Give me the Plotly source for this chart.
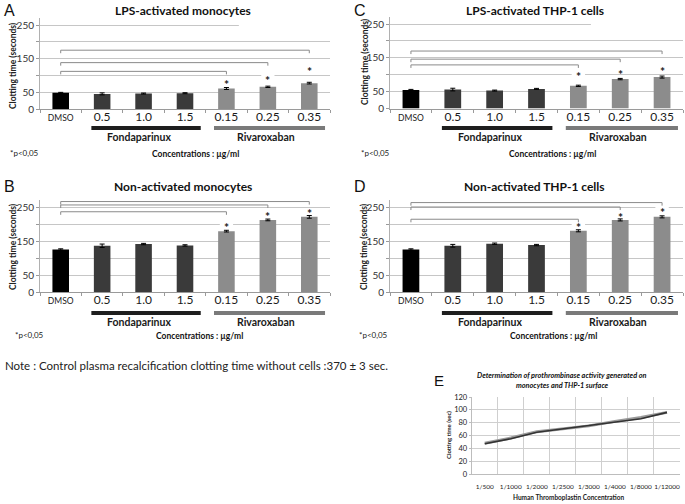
import plotly.graph_objects as go

W, H = 685, 504

# ---------------- data ----------------
categories = ["DMSO", "0.5", "1.0", "1.5", "0.15", "0.25", "0.35"]
treatment = ["DMSO", "Fondaparinux", "Fondaparinux", "Fondaparinux",
             "Rivaroxaban", "Rivaroxaban", "Rivaroxaban"]
significant = [False, False, False, False, True, True, True]

# A: LPS-activated monocytes
lps_monocytes = [48, 45, 46, 47, 61, 66, 77]
lps_monocytes_err = [1.5, 3.0, 1.5, 1.5, 3.0, 2.0, 2.5]
# B: Non-activated monocytes
non_monocytes = [125, 136, 141, 137, 179, 212, 221]
non_monocytes_err = [2.0, 5.0, 2.0, 2.0, 2.5, 2.5, 4.0]
# C: LPS-activated THP-1 cells
lps_thp1 = [55, 56, 53, 58, 67, 87, 93]
lps_thp1_err = [1.5, 4.0, 1.5, 1.5, 2.0, 2.0, 3.0]
# D: Non-activated THP-1 cells
non_thp1 = [125, 136, 142, 138, 180, 212, 221]
non_thp1_err = [2.0, 4.0, 2.0, 2.0, 3.0, 3.0, 3.0]

yticks = [0, 50, 100, 150, 200, 250]
ytick_labels = ["0", "50", "", "150", "", "250"]

# E: prothrombinase activity
dilutions = ["1/500", "1/1000", "1/2000", "1/2500", "1/3000", "1/4000", "1/8000", "1/12000"]
e_monocytes = [48, 56, 66, 71, 75, 82, 88, 96]
e_thp1 = [47, 55, 65, 70, 75, 81, 86, 96]
e_yticks = [0, 20, 40, 60, 80, 100, 120]

# ---------------- styling / layout ----------------
FONT = "Lato, Carlito, Calibri, sans-serif"
LETTER_FONT = "Liberation Sans, Arial, sans-serif"
bar_colors = {"DMSO": "#000000", "Fondaparinux": "#3a3a3a", "Rivaroxaban": "#8c8c8c"}
GRID = "#c6c6c6"
BRACKET = "#8a8a8a"


def px(x):
    return x / W


def py(y):
    return 1 - y / H


panels = [
    dict(letter="A", title="LPS-activated monocytes", y=lps_monocytes, err=lps_monocytes_err,
         xpx=(40, 330), zero=109, y250=25, row=dict(title=10, gbar=128, glab=137, foot=154),
         ytitle=(13, 66), pval_x=24, conc_x=195, stars=[82, 95, 120],
         brackets=[112, 138, 175], partial250=True),
    dict(letter="B", title="Non-activated monocytes", y=non_monocytes, err=non_monocytes_err,
         xpx=(40, 330), zero=292, y250=207, row=dict(title=186, gbar=313, glab=322, foot=336),
         ytitle=(13, 247), pval_x=29, conc_x=199, stars=[199, 231, 239],
         brackets=[236, 256, 266], partial250=False),
    dict(letter="C", title="LPS-activated THP-1 cells", y=lps_thp1, err=lps_thp1_err,
         xpx=(390, 683), zero=108.5, y250=24, row=dict(title=10, gbar=128, glab=137, foot=154),
         ytitle=(365, 62), pval_x=375, conc_x=552, stars=[104, 109, 119],
         brackets=[129, 146, 170], partial250=True),
    dict(letter="D", title="Non-activated THP-1 cells", y=non_thp1, err=non_thp1_err,
         xpx=(390, 683), zero=292, y250=207, row=dict(title=186, gbar=313, glab=322, foot=336),
         ytitle=(364, 247), pval_x=374, conc_x=553, stars=[199, 227, 243],
         brackets=[214, 250, 263], partial250=False),
]

YMAX = 270
fig = go.Figure()
shapes = []
annotations = []
layout_axes = {}

for i, p in enumerate(panels):
    n = i + 1
    xa = "x" if n == 1 else f"x{n}"
    ya = "y" if n == 1 else f"y{n}"
    xname = "xaxis" if n == 1 else f"xaxis{n}"
    yname = "yaxis" if n == 1 else f"yaxis{n}"
    scale = (p["zero"] - p["y250"]) / 250.0
    top = p["zero"] - YMAX * scale

    fig.add_trace(go.Bar(
        x=categories, y=p["y"], xaxis=xa, yaxis=ya,
        marker=dict(color=[bar_colors[t] for t in treatment], line=dict(width=0)),
        error_y=dict(type="data", array=p["err"], color="#000000", thickness=1, width=2.5),
        showlegend=False, hoverinfo="skip",
    ))

    ticktext = [f"<span style='font-size:8.5px'>{c}</span>" if c == "DMSO" else c for c in categories]
    layout_axes[xname] = dict(
        domain=[px(p["xpx"][0]), px(p["xpx"][1])], anchor=ya, automargin=False,
        range=[-0.5, 6.5], type="category", tickvals=categories, ticktext=ticktext,
        tickfont=dict(family=FONT, size=12, color="#1a1a1a"), tickangle=0,
        ticklabelstandoff=-3,
        showline=True, linecolor="#9a9a9a", linewidth=1, showgrid=False,
        ticks="outside", tickson="boundaries", ticklen=3, tickcolor="#9a9a9a",
        zeroline=False, fixedrange=True,
    )
    layout_axes[yname] = dict(
        domain=[py(p["zero"]), py(top)], anchor=xa, range=[0, YMAX], automargin=False,
        tickvals=yticks, ticktext=ytick_labels,
        tickfont=dict(family=FONT, size=10, color="#333333"),
        showgrid=True, gridcolor=GRID, gridwidth=1,
        showline=True, linecolor="#b0b0b0", linewidth=1,
        ticks="outside", ticklen=3, tickcolor="#9a9a9a", zeroline=False, fixedrange=True,
    )

    if p["partial250"]:
        shapes.append(dict(type="rect", xref=xa, yref=ya, x0=4.3, x1=6.6, y0=246, y1=254,
                           fillcolor="white", line=dict(width=0), layer="between"))

    # brackets DMSO -> significant categories
    sig_idx = [k for k, s in enumerate(significant) if s]
    for k, top_val in zip(sig_idx, p["brackets"]):
        shapes.append(dict(
            type="path", xref=xa, yref=ya,
            path=f"M 0 {top_val - 9} L 0 {top_val} L {k} {top_val} L {k} {top_val - 9}",
            line=dict(color=BRACKET, width=1),
        ))
    for k, sy in zip(sig_idx, p["stars"]):
        shapes.append(dict(type="rect", xref=xa, yref=ya, x0=k - 0.16, x1=k + 0.16,
                           y0=sy - 7, y1=sy + 7, fillcolor="white",
                           line=dict(width=0), layer="between"))
        annotations.append(dict(
            x=k, y=sy, xref=xa, yref=ya, text="<b>*</b>", showarrow=False, yshift=-3,
            font=dict(family=FONT, size=12, color="#1a1a1a"),
            xanchor="center", yanchor="middle",
        ))

    r = p["row"]
    shapes.append(dict(type="rect", xref=xa, yref="paper", x0=0.74, x1=3.38,
                       y0=py(r["gbar"] + 2), y1=py(r["gbar"] - 2),
                       fillcolor="#1e1e1e", line=dict(width=0)))
    shapes.append(dict(type="rect", xref=xa, yref="paper", x0=3.7, x1=6.38,
                       y0=py(r["gbar"] + 2), y1=py(r["gbar"] - 2),
                       fillcolor="#7a7a7a", line=dict(width=0)))
    annotations.append(dict(x=1.9, y=py(r["glab"]), xref=xa, yref="paper", text="<b>Fondaparinux</b>",
                            showarrow=False, font=dict(family=FONT, size=10.5, color="#1a1a1a"),
                            xanchor="center", yanchor="middle"))
    annotations.append(dict(x=4.95, y=py(r["glab"]), xref=xa, yref="paper", text="<b>Rivaroxaban</b>",
                            showarrow=False, font=dict(family=FONT, size=10.5, color="#1a1a1a"),
                            xanchor="center", yanchor="middle"))
    cx = (p["xpx"][0] + p["xpx"][1]) / 2
    annotations.append(dict(x=px(cx - 2), y=py(r["title"]), xref="paper", yref="paper",
                            text=f"<b>{p['title']}</b>", showarrow=False,
                            font=dict(family=FONT, size=12, color="#111111"),
                            xanchor="center", yanchor="middle"))
    annotations.append(dict(x=px(p["xpx"][0] - 38), y=py(r["title"]), xref="paper", yref="paper",
                            text=p["letter"], showarrow=False,
                            font=dict(family=LETTER_FONT, size=16, color="#111111"),
                            xanchor="left", yanchor="middle"))
    annotations.append(dict(x=px(p["ytitle"][0]), y=py(p["ytitle"][1]), xref="paper", yref="paper",
                            text="<b>Clotting time (seconds)</b>", textangle=-90, showarrow=False,
                            font=dict(family=FONT, size=8.5, color="#222222"),
                            xanchor="center", yanchor="middle"))
    annotations.append(dict(x=px(p["pval_x"]), y=py(r["foot"] - 1), xref="paper", yref="paper",
                            text="*p&lt;0,05", showarrow=False,
                            font=dict(family=FONT, size=8, color="#222222"),
                            xanchor="center", yanchor="middle"))
    annotations.append(dict(x=px(p["conc_x"]), y=py(r["foot"]), xref="paper", yref="paper",
                            text="<b>Concentrations : µg/ml</b>", showarrow=False,
                            font=dict(family=FONT, size=8.5, color="#111111"),
                            xanchor="center", yanchor="middle"))

# ---------------- panel E ----------------
fig.add_trace(go.Scatter(x=dilutions, y=e_monocytes, mode="lines", xaxis="x5", yaxis="y5",
                         line=dict(color="#9a9a9a", width=3), showlegend=False, hoverinfo="skip"))
fig.add_trace(go.Scatter(x=dilutions, y=e_thp1, mode="lines", xaxis="x5", yaxis="y5",
                         line=dict(color="#333333", width=1.6), showlegend=False, hoverinfo="skip"))

layout_axes["xaxis5"] = dict(
    domain=[px(471.7), px(680)], anchor="y5", type="category", range=[-0.5, 7.5],
    automargin=False, ticklabelstandoff=6,
    tickson="boundaries", showgrid=True, gridcolor="#cfcfcf", gridwidth=1,
    tickfont=dict(family=FONT, size=6.5, color="#222222"), ticks="", tickangle=0,
    showline=True, linecolor="#bdbdbd", mirror=False, zeroline=False, fixedrange=True,
)
layout_axes["yaxis5"] = dict(
    domain=[py(474), py(397)], anchor="x5", range=[0, 120], tickvals=e_yticks,
    automargin=False,
    tickfont=dict(family=FONT, size=7.5, color="#222222"),
    showgrid=True, gridcolor="#cfcfcf", gridwidth=1, showline=True, linecolor="#bdbdbd",
    ticks="outside", ticklen=2, tickcolor="#bdbdbd", zeroline=False, fixedrange=True,
)
annotations += [
    dict(x=px(562), y=py(375), xref="paper", yref="paper",
         text="<b><i>Determination of prothrombinase activity generated on</i></b>",
         showarrow=False, font=dict(family=FONT, size=7.3, color="#111111"),
         xanchor="center", yanchor="middle"),
    dict(x=px(562), y=py(385.5), xref="paper", yref="paper",
         text="<b><i>monocytes and THP-1 surface</i></b>",
         showarrow=False, font=dict(family=FONT, size=7.3, color="#111111"),
         xanchor="center", yanchor="middle"),
    dict(x=px(432), y=py(380), xref="paper", yref="paper", text="E", showarrow=False,
         font=dict(family=LETTER_FONT, size=15, color="#111111"), xanchor="left", yanchor="middle"),
    dict(x=px(448), y=py(435), xref="paper", yref="paper", text="<b>Clotting time (sec)</b>",
         textangle=-90, showarrow=False, font=dict(family=FONT, size=6, color="#222222"),
         xanchor="center", yanchor="middle"),
    dict(x=px(568), y=py(497), xref="paper", yref="paper",
         text="<b>Human Thromboplastin Concentration</b>", showarrow=False,
         font=dict(family=FONT, size=6.5, color="#222222"), xanchor="center", yanchor="middle"),
    dict(x=px(3), y=py(365), xref="paper", yref="paper",
         text="Note : Control plasma recalcification clotting time without cells :370 ± 3 sec.",
         showarrow=False, font=dict(family=FONT, size=11.5, color="#222222"),
         xanchor="left", yanchor="middle"),
]

fig.update_layout(
    width=W, height=H, margin=dict(l=0, r=0, t=0, b=0, pad=0, autoexpand=False),
    paper_bgcolor="white", plot_bgcolor="white",
    bargap=0.6, shapes=shapes, annotations=annotations,
    **layout_axes,
)

page_fix = ("var h=document.documentElement,b=document.body;"
            "h.style.margin='0';h.style.padding='0';h.style.overflow='hidden';"
            "h.style.height='504px';b.style.margin='0';b.style.padding='0';"
            "b.style.overflow='hidden';b.style.height='504px';")
fig.write_html("out.html", config={"displayModeBar": False}, post_script=page_fix)
